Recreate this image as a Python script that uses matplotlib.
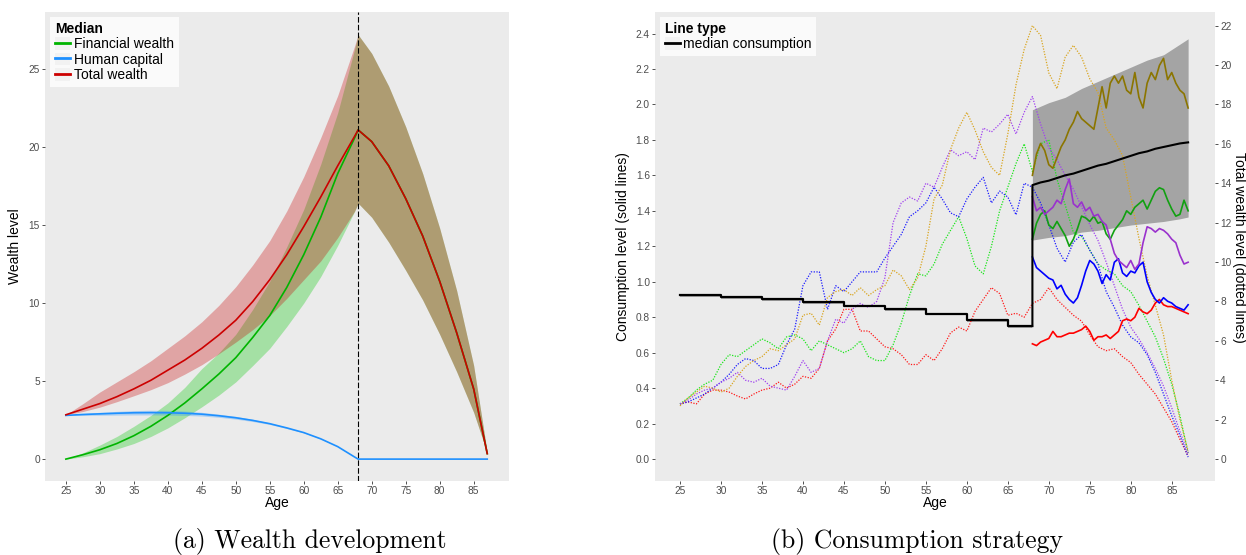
import numpy as np
import matplotlib.pyplot as plt
from matplotlib.lines import Line2D
from matplotlib.patches import Patch

plt.rcParams['font.family'] = ['Liberation Sans', 'DejaVu Sans']

RETIRE_AGE = 68

# ---------------- (a) wealth development ----------------
age_a = [25, 27.5, 30, 32.5, 35, 37.5, 40, 42.5, 45, 47.5, 50, 52.5, 55, 57.5,
         60, 62.5, 65, 67.5, 68, 70, 72.5, 75, 77.5, 80, 82.5, 85, 87]

total_med = [2.84, 3.2, 3.56, 4.0, 4.5, 5.05, 5.7, 6.35, 7.1, 7.95, 8.9, 10.1, 11.5, 13.1,
             14.9, 16.8, 18.8, 20.7, 21.1, 20.35, 18.8, 16.7, 14.3, 11.4, 8.1, 4.5, 0.35]
total_hi = [2.84, 3.55, 4.3, 4.95, 5.6, 6.3, 7.1, 7.9, 8.8, 9.85, 11.05, 12.45, 14.0, 15.9,
            18.1, 20.6, 23.3, 26.5, 27.2, 26.0, 23.9, 21.3, 18.3, 14.8, 10.8, 6.0, 0.4]
total_lo = [2.84, 3.05, 3.33, 3.68, 4.06, 4.45, 4.9, 5.45, 6.05, 6.75, 7.5, 8.3, 9.2, 10.3,
            11.5, 12.7, 14.2, 15.9, 16.4, 15.5, 13.9, 12.1, 10.2, 8.0, 5.6, 3.0, 0.4]

fin_med = [0, 0.28, 0.6, 1.0, 1.5, 2.1, 2.8, 3.6, 4.5, 5.45, 6.5, 7.8, 9.2, 11.0,
           13.1, 15.5, 18.3, 20.6, 21.1, 20.35, 18.8, 16.7, 14.3, 11.4, 8.1, 4.5, 0.35]
fin_hi = [0, 0.4, 0.9, 1.45, 2.1, 2.8, 3.6, 4.6, 5.8, 6.8, 8.0, 9.6, 11.4, 13.6,
          16.0, 18.9, 22.2, 26.3, 27.2, 26.0, 23.9, 21.3, 18.3, 14.8, 10.8, 6.0, 0.4]
fin_lo = [0, 0.15, 0.35, 0.65, 1.0, 1.45, 2.0, 2.65, 3.35, 4.1, 4.95, 6.0, 7.1, 8.5,
          10.0, 11.7, 13.7, 15.9, 16.4, 15.5, 13.9, 12.1, 10.2, 8.0, 5.6, 3.0, 0.4]

human_med = [2.8, 2.86, 2.9, 2.94, 2.97, 2.98, 2.97, 2.94, 2.88, 2.78, 2.65, 2.48, 2.27, 2.0,
             1.7, 1.3, 0.8, 0.13, 0, 0, 0, 0, 0, 0, 0, 0, 0]
human_hi = [2.8, 2.92, 3.0, 3.06, 3.11, 3.13, 3.12, 3.08, 3.0, 2.88, 2.74, 2.55, 2.32, 2.04,
            1.72, 1.31, 0.81, 0.13, 0, 0, 0, 0, 0, 0, 0, 0, 0]
human_lo = [2.8, 2.8, 2.81, 2.82, 2.83, 2.83, 2.82, 2.8, 2.76, 2.68, 2.56, 2.41, 2.22, 1.96,
            1.68, 1.29, 0.79, 0.13, 0, 0, 0, 0, 0, 0, 0, 0, 0]

# ---------------- (b) consumption strategy ----------------
# total wealth of five sample paths (right axis), one value per year
age_w = np.arange(25, 88)
wealth_paths = {
    'red': [2.8, 2.9, 2.8, 3.3, 3.5, 3.5, 3.4, 3.2, 3.05, 3.3,
            3.5, 3.6, 3.9, 3.6, 3.8, 4.2, 4.1, 4.6, 6.0, 6.6,
            7.6, 7.6, 6.5, 6.5, 6.1, 5.7, 5.6, 5.3, 4.8, 4.8,
            5.3, 5.0, 5.6, 6.4, 6.7, 6.5, 7.5, 8.1, 8.7, 8.4,
            7.3, 7.4, 7.2, 7.9, 8.1, 8.7, 8.1, 7.7, 7.3, 7.0,
            6.3, 5.7, 5.5, 5.6, 5.2, 4.9, 4.3, 3.8, 3.3, 2.6,
            1.9, 1.0, 0.15],
    'green': [2.8, 3.1, 3.5, 3.8, 4.0, 4.8, 5.3, 5.2, 5.5, 5.8,
              6.1, 5.9, 5.6, 6.2, 6.3, 6.1, 5.5, 6.0, 5.8, 5.6,
              5.4, 5.6, 6.0, 5.2, 5.0, 5.0, 5.8, 6.9, 8.3, 9.4,
              9.3, 9.9, 10.9, 11.6, 12.3, 11.2, 9.8, 9.4, 10.8, 12.6,
              13.8, 15.0, 16.0, 14.6, 16.0, 16.2, 14.2, 12.9, 11.5, 11.3,
              10.6, 9.9, 9.6, 9.4, 8.8, 8.5, 7.8, 7.0, 6.2, 5.1,
              3.8, 2.2, 0.3],
    'blue': [2.8, 2.9, 3.1, 3.3, 3.6, 3.9, 4.3, 4.8, 5.1, 5.0,
             4.6, 4.6, 4.8, 5.8, 6.6, 8.8, 9.5, 9.5, 7.6, 8.8,
             8.5, 9.0, 9.5, 9.5, 9.5, 10.2, 10.8, 11.4, 12.3, 12.6,
             13.0, 13.8, 13.2, 12.5, 12.3, 13.2, 13.8, 14.3, 13.0, 13.6,
             13.3, 12.4, 14.0, 13.8, 13.0, 11.9, 10.7, 10.0, 11.0, 11.4,
             10.6, 9.9, 8.5, 7.7, 6.8, 6.2, 5.9, 5.3, 4.4, 3.3,
             2.2, 1.2, 0.1],
    'purple': [2.8, 3.0, 3.3, 3.5, 3.6, 3.9, 4.1, 4.4, 4.0, 3.9,
               4.1, 3.7, 3.6, 3.5, 4.2, 5.0, 4.4, 4.6, 6.0, 7.1,
               6.9, 7.6, 7.9, 7.7, 8.0, 9.2, 12.0, 13.0, 13.3, 13.1,
               14.0, 13.8, 14.8, 15.7, 15.4, 15.6, 15.2, 16.8, 16.6, 17.0,
               17.5, 16.5, 17.6, 18.4, 17.0, 15.8, 15.2, 14.4, 13.7, 12.8,
               11.9, 11.1, 10.0, 8.8, 7.6, 6.7, 6.1, 5.4, 4.6, 3.7,
               2.6, 1.4, 0.3],
    'gold': [2.7, 3.1, 3.4, 3.7, 3.6, 3.4, 3.6, 4.2, 4.7, 5.0,
             5.2, 5.6, 5.5, 5.8, 6.1, 7.3, 7.4, 6.8, 8.2, 8.5,
             8.6, 8.3, 8.7, 8.3, 8.6, 8.8, 9.6, 9.3, 8.6, 9.2,
             10.8, 13.2, 13.9, 15.7, 16.8, 17.6, 16.7, 15.6, 14.8, 14.4,
             16.5, 19.0, 20.8, 22.0, 21.5, 19.6, 18.8, 20.4, 21.0, 20.4,
             19.3, 18.6, 16.8, 16.2, 15.4, 13.3, 11.2, 9.3, 7.8, 6.3,
             4.0, 2.0, 0.4],
}

# consumption of the same paths after retirement (left axis), half-year steps
age_c = np.arange(RETIRE_AGE, 87.01, 0.5)
consumption_paths = {
    'red': [0.65, 0.64, 0.66, 0.67, 0.68, 0.72, 0.69, 0.69, 0.70, 0.71, 0.71, 0.72, 0.73,
            0.75, 0.72, 0.67, 0.69, 0.69, 0.70, 0.68, 0.70, 0.72, 0.78, 0.79, 0.78, 0.80,
            0.85, 0.83, 0.82, 0.84, 0.88, 0.90, 0.87, 0.86, 0.86, 0.85, 0.84, 0.83, 0.82],
    'green': [1.24, 1.33, 1.38, 1.40, 1.32, 1.30, 1.34, 1.30, 1.26, 1.20, 1.24, 1.30, 1.37,
              1.36, 1.34, 1.37, 1.33, 1.34, 1.27, 1.24, 1.29, 1.32, 1.35, 1.40, 1.38, 1.42,
              1.44, 1.46, 1.41, 1.46, 1.51, 1.53, 1.52, 1.46, 1.41, 1.37, 1.38, 1.46, 1.40],
    'blue': [1.14, 1.08, 1.06, 1.04, 1.02, 1.01, 0.96, 0.98, 0.93, 0.90, 0.88, 0.91, 0.98,
             1.06, 1.12, 1.10, 1.06, 0.99, 1.04, 1.01, 1.11, 1.13, 1.05, 1.03, 1.06, 1.05,
             1.09, 1.11, 1.00, 0.94, 0.90, 0.88, 0.91, 0.89, 0.88, 0.86, 0.85, 0.84, 0.87],
    'purple': [1.48, 1.40, 1.42, 1.38, 1.40, 1.42, 1.46, 1.44, 1.52, 1.58, 1.44, 1.42, 1.45,
               1.40, 1.42, 1.37, 1.38, 1.34, 1.32, 1.24, 1.16, 1.12, 1.10, 1.08, 1.12, 1.07,
               1.10, 1.22, 1.31, 1.30, 1.28, 1.30, 1.29, 1.27, 1.24, 1.22, 1.15, 1.10, 1.11],
    'gold': [1.60, 1.72, 1.78, 1.74, 1.66, 1.64, 1.70, 1.76, 1.80, 1.86, 1.90, 1.96, 1.92,
             1.90, 1.88, 1.86, 1.98, 2.10, 1.98, 2.12, 2.16, 2.12, 2.16, 2.08, 2.06, 2.18,
             2.04, 1.98, 2.12, 2.18, 2.14, 2.22, 2.26, 2.14, 2.18, 2.12, 2.08, 2.06, 1.98],
}

# median consumption: constant 5-year blocks before retirement, then yearly
step_age = [25, 30, 35, 40, 45, 50, 55, 60, 65, 68]
step_cons = [0.925, 0.915, 0.90, 0.885, 0.865, 0.845, 0.82, 0.785, 0.75, 0.75]
step_cons_lo = [0.915, 0.905, 0.89, 0.875, 0.855, 0.835, 0.81, 0.775, 0.74, 0.74]
med_age = np.arange(RETIRE_AGE, 88)
med_cons = [1.545, 1.56, 1.57, 1.585, 1.60, 1.61, 1.625, 1.64, 1.655, 1.665,
            1.68, 1.695, 1.71, 1.725, 1.735, 1.75, 1.76, 1.77, 1.78, 1.786]
band_age = [68, 70, 72, 74, 76, 78, 80, 82, 84, 86, 87]
band_hi = [1.97, 2.01, 2.04, 2.09, 2.13, 2.17, 2.21, 2.25, 2.28, 2.34, 2.37]
band_lo = [1.235, 1.25, 1.26, 1.28, 1.29, 1.305, 1.32, 1.33, 1.34, 1.355, 1.365]

WEALTH_SCALE = 9  # right axis = 9 x left axis

dotted_colors = {'red': '#FF1A1A', 'green': '#1AE61A', 'blue': '#1A1AFF',
                 'purple': '#A040F0', 'gold': '#D9A520'}
solid_colors = {'red': '#FF0000', 'green': '#11A011', 'blue': '#0000FF',
                'purple': '#9A32CD', 'gold': '#8B7500'}

# ---------------- figure ----------------
W, H = 1246, 555
fig = plt.figure(figsize=(W / 100, H / 100), dpi=100)
ax1 = fig.add_axes([45 / W, (H - 480.7) / H, 464 / W, 468.3 / H])
ax2 = fig.add_axes([655 / W, (H - 480.7) / H, 560 / W, 468.3 / H])


def gg_style(ax):
    ax.set_facecolor('#EBEBEB')
    for s in ax.spines.values():
        s.set_visible(False)
    ax.tick_params(length=2.2, width=0.6, color='#333333', labelcolor='#4D4D4D',
                   labelsize=7.3, pad=1.5)


gg_style(ax1)
ax1.fill_between(age_a, fin_lo, fin_hi, color='#00C800', alpha=0.3, lw=0)
ax1.fill_between(age_a, total_lo, total_hi, color='#C80000', alpha=0.3, lw=0)
ax1.fill_between(age_a, human_lo, human_hi, color='#1E90FF', alpha=0.3, lw=0)
ax1.plot(age_a, fin_med, color='#00B400', lw=1.2)
ax1.plot(age_a, human_med, color='#1E90FF', lw=1.2)
ax1.plot(age_a, total_med, color='#CC0000', lw=1.2)
ax1.axvline(RETIRE_AGE, color='black', lw=0.8, ls=(0, (5, 2)))
ax1.set_xlim(21.93, 90.2)
ax1.set_ylim(-1.384, 28.63)
ax1.set_xticks(range(25, 90, 5))
ax1.set_yticks(range(0, 30, 5))
ax1.set_xlabel('Age', fontsize=10)
ax1.xaxis.set_label_coords(0.5, -0.033)
ax1.set_ylabel('Wealth level', fontsize=10)
ax1.yaxis.set_label_coords(-0.05, 0.5)

key_bg = Patch(facecolor='#F2F2F2', edgecolor='none')
h1 = [(key_bg, Line2D([], [], color=c, lw=2)) for c in ['#00B400', '#1E90FF', '#CC0000']]
leg1 = ax1.legend(h1, ['Financial wealth', 'Human capital', 'Total wealth'],
                  title='Median', loc='upper left', bbox_to_anchor=(0.011, 0.99),
                  borderaxespad=0, fontsize=10, title_fontproperties={'weight': 'bold', 'size': 10},
                  alignment='left', frameon=True, fancybox=False, handlelength=1.1,
                  handleheight=1.0, handletextpad=0.3, labelspacing=0.1, borderpad=0.35)
leg1.get_frame().set_edgecolor('none')
leg1.get_frame().set_facecolor('white')

gg_style(ax2)
for name, w in wealth_paths.items():
    ax2.plot(age_w, np.array(w) / WEALTH_SCALE, color=dotted_colors[name],
             lw=0.9, ls=(0, (1, 1.2)))
ax2.fill_between(step_age, step_cons_lo, step_cons, step='post', color='black', alpha=0.3, lw=0)
ax2.fill_between(band_age, band_lo, band_hi, color='black', alpha=0.3, lw=0)
for name, c in consumption_paths.items():
    ax2.plot(age_c, c, color=solid_colors[name], lw=1.2)
ax2.step(step_age, step_cons, where='post', color='black', lw=1.6)
ax2.plot(np.r_[RETIRE_AGE, med_age], np.r_[step_cons[-1], med_cons], color='black', lw=1.5)
ax2.set_xlim(21.95, 90.28)
ax2.set_ylim(-0.122, 2.519)
ax2.set_xticks(range(25, 90, 5))
ax2.set_yticks(np.arange(0, 2.41, 0.2))
ax2.yaxis.set_major_formatter(plt.FormatStrFormatter('%.1f'))
ax2.set_xlabel('Age', fontsize=10)
ax2.xaxis.set_label_coords(0.5, -0.033)
ax2.set_ylabel('Consumption level (solid lines)', fontsize=10)
ax2.yaxis.set_label_coords(-0.045, 0.5)

sec = ax2.secondary_yaxis('right', functions=(lambda c: c * WEALTH_SCALE,
                                              lambda w: w / WEALTH_SCALE))
sec.set_yticks(range(0, 23, 2))
for s in sec.spines.values():
    s.set_visible(False)
sec.tick_params(length=2.2, width=0.6, color='#333333', labelcolor='#4D4D4D',
                labelsize=7.3, pad=1.5)
fig.text(1238.5 / W, (H - 247) / H, 'Total wealth level (dotted lines)', rotation=270,
         ha='center', va='center', fontsize=10)

h2 = [(key_bg, Line2D([], [], color='black', lw=2))]
leg2 = ax2.legend(h2, ['median consumption'], title='Line type', loc='upper left',
                  bbox_to_anchor=(0.009, 0.99), borderaxespad=0, fontsize=10,
                  title_fontproperties={'weight': 'bold', 'size': 10}, alignment='left',
                  frameon=True, fancybox=False, handlelength=1.1, handleheight=1.0,
                  handletextpad=0.2, labelspacing=0.1, borderpad=0.35)
leg2.get_frame().set_edgecolor('none')
leg2.get_frame().set_facecolor('white')

fig.text(310 / W, (H - 541.6) / H, '(a) Wealth development', fontfamily='cmr10',
         fontsize=18.5, ha='center', va='center')
fig.text(917 / W, (H - 541.6) / H, '(b) Consumption strategy', fontfamily='cmr10',
         fontsize=18.5, ha='center', va='center')

fig.savefig('out.png', dpi=100, facecolor='white')
